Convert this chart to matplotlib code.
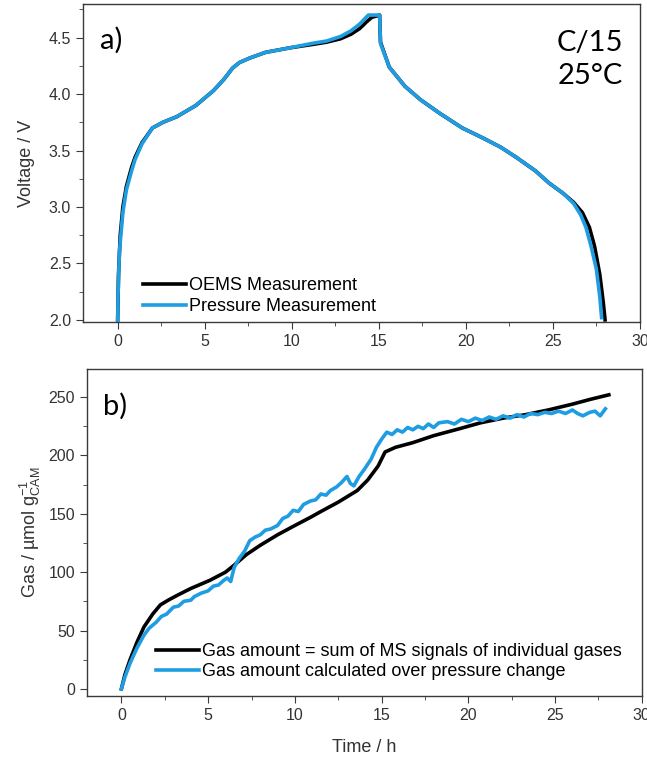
import matplotlib
matplotlib.use('Agg')
import matplotlib.pyplot as plt
from matplotlib.ticker import MultipleLocator

plt.rcParams['font.family'] = ['Liberation Sans', 'DejaVu Sans']

# panel a) voltage vs time
t_oems = [0, 0.05, 0.15, 0.3, 0.5, 0.8, 1.0, 1.4, 2.0, 2.6, 3.4, 4.5, 5.5, 6.1, 6.6,
          7.0, 7.6, 8.5, 9.9, 11.2, 12.0, 12.8, 13.4, 13.9, 14.3, 14.6, 15.05, 15.1,
          15.6, 16.5, 17.4, 18.5, 19.8, 21.0, 22.0, 22.9, 24.0, 24.8, 25.6, 26.2,
          26.7, 27.1, 27.4, 27.7, 27.9, 28.0]
v_oems = [2.0, 2.4, 2.75, 3.0, 3.18, 3.35, 3.44, 3.57, 3.70, 3.75, 3.80, 3.90, 4.03,
          4.13, 4.23, 4.28, 4.32, 4.37, 4.41, 4.44, 4.46, 4.49, 4.53, 4.58, 4.64, 4.68,
          4.70, 4.46, 4.24, 4.07, 3.95, 3.83, 3.70, 3.61, 3.53, 3.44, 3.32, 3.21, 3.12,
          3.04, 2.95, 2.82, 2.65, 2.40, 2.15, 2.0]
t_pres = [0, 0.02, 0.1, 0.3, 0.5, 0.8, 1.0, 1.4, 2.0, 2.6, 3.4, 4.5, 5.5, 6.1, 6.6,
          7.0, 7.6, 8.5, 9.9, 11.2, 12.0, 12.8, 13.4, 13.9, 14.4, 15.05, 15.1,
          15.6, 16.5, 17.4, 18.5, 19.8, 21.0, 22.0, 22.9, 24.0, 24.8, 25.6, 26.2,
          26.6, 26.9, 27.2, 27.5, 27.7, 27.8]
v_pres = [1.9, 2.2, 2.6, 2.95, 3.15, 3.32, 3.42, 3.56, 3.70, 3.75, 3.80, 3.90, 4.03,
          4.13, 4.23, 4.28, 4.32, 4.37, 4.41, 4.45, 4.47, 4.51, 4.56, 4.62, 4.70, 4.70,
          4.45, 4.24, 4.07, 3.95, 3.83, 3.70, 3.61, 3.53, 3.44, 3.32, 3.21, 3.12, 3.03,
          2.93, 2.82, 2.65, 2.45, 2.2, 2.02]

# panel b) gas amount vs time
t_ms = [0, 0.2, 0.5, 0.9, 1.3, 1.8, 2.25, 2.7, 3.2, 4.0, 5.1, 6.0, 6.5, 7.2, 8.0, 9.0,
        10.0, 10.9, 11.5, 12.5, 13.6, 14.2, 14.8, 15.2, 15.8, 16.8, 18.0, 19.5, 20.7,
        22.0, 23.3, 24.6, 26.0, 27.0, 28.1]
g_ms = [0, 12, 25, 40, 53, 64, 72, 76, 80, 86, 93, 100, 106, 115, 123, 132, 140, 147,
        152, 160, 170, 179, 191, 203, 207, 211, 217, 223, 228, 232, 235, 239, 244, 248, 252]
t_p = [0, 0.2, 0.5, 0.9, 1.3, 1.6, 2.0, 2.3, 2.6, 3.0, 3.3, 3.6, 4.0, 4.2, 4.6, 5.0,
       5.3, 5.6, 5.9, 6.1, 6.3, 6.5, 6.8, 7.1, 7.4, 7.7, 8.0, 8.3, 8.6, 9.0, 9.3, 9.6,
       9.9, 10.2, 10.5, 10.9, 11.2, 11.5, 11.8, 12.05, 12.4, 12.7, 13.0, 13.2, 13.4,
       13.7, 14.0, 14.4, 14.7, 15.0, 15.3, 15.6, 15.9, 16.2, 16.5, 16.8, 17.1, 17.4,
       17.7, 18.0, 18.3, 18.8, 19.2, 19.6, 20.0, 20.4, 20.8, 21.2, 21.6, 22.0, 22.4,
       22.8, 23.2, 23.6, 24.0, 24.4, 24.8, 25.2, 25.6, 26.0, 26.3, 26.6, 27.0, 27.3,
       27.6, 27.9]
g_p = [0, 10, 22, 35, 46, 52, 57, 62, 64, 70, 71, 75, 76, 79, 82, 84, 88, 89, 93, 95,
       92, 104, 112, 118, 127, 130, 132, 136, 137, 140, 146, 148, 153, 152, 158, 161,
       162, 167, 166, 170, 173, 177, 182, 176, 174, 182, 188, 197, 207, 214, 220, 218,
       222, 220, 224, 222, 225, 223, 227, 224, 228, 229, 227, 231, 229, 232, 230, 233,
       231, 234, 232, 235, 233, 236, 235, 237, 236, 238, 236, 239, 236, 234, 237, 238,
       234, 240]

blue = '#1E9DE3'
spine_c = '#3a3a3a'
txt_c = '#333333'

fig = plt.figure(figsize=(6.47, 7.58), dpi=100)
ax1 = fig.add_axes([0.128, 0.575, 0.861, 0.42])
ax2 = fig.add_axes([0.134, 0.082, 0.858, 0.431])

ax1.plot(t_oems, v_oems, color='black', lw=2.6, label='OEMS Measurement')
ax1.plot(t_pres, v_pres, color=blue, lw=2.6, label='Pressure Measurement')
ax2.plot(t_ms, g_ms, color='black', lw=2.6,
         label='Gas amount = sum of MS signals of individual gases')
ax2.plot(t_p, g_p, color=blue, lw=2.6,
         label='Gas amount calculated over pressure change')

ax1.set_xlim(-2, 30)
ax1.set_ylim(1.98, 4.80)
ax2.set_xlim(-2, 30)
ax2.set_ylim(-6, 274)

for ax in (ax1, ax2):
    ax.xaxis.set_major_locator(MultipleLocator(5))
    ax.xaxis.set_minor_locator(MultipleLocator(2.5))
    for s in ax.spines.values():
        s.set_color(spine_c)
        s.set_linewidth(1.0)
    ax.tick_params(which='both', direction='out', colors=spine_c, labelcolor=txt_c,
                   labelsize=11.5)
    ax.tick_params(which='major', length=5)
    ax.tick_params(which='minor', length=3)
    ax.legend(loc='lower left', frameon=False, fontsize=13, handlelength=2.4,
              handletextpad=0.15, labelspacing=0.2, borderaxespad=0)

ax1.yaxis.set_major_locator(MultipleLocator(0.5))
ax1.yaxis.set_minor_locator(MultipleLocator(0.25))
ax2.yaxis.set_major_locator(MultipleLocator(50))
ax2.yaxis.set_minor_locator(MultipleLocator(25))

ax1.legend_.set_bbox_to_anchor((0.095, 0.0), transform=ax1.transAxes)
ax2.legend_.set_bbox_to_anchor((0.112, 0.025), transform=ax2.transAxes)

ax1.set_ylabel('Voltage / V', fontsize=13, color=txt_c, labelpad=10)
ax2.set_ylabel('Gas / µmol g$_{\\mathregular{CAM}}^{\\mathregular{-1}}$', fontsize=13,
               color=txt_c, labelpad=4)
ax2.set_xlabel('Time / h', fontsize=13, color=txt_c, labelpad=12)

ax1.text(0.03, 0.885, 'a)', transform=ax1.transAxes, fontsize=21, family='Lato',
         va='center', ha='left')
ax2.text(0.03, 0.885, 'b)', transform=ax2.transAxes, fontsize=21, family='Lato',
         va='center', ha='left')
ax1.text(0.970, 0.825, 'C/15\n25°C', transform=ax1.transAxes, fontsize=21,
         family='Lato', va='center', ha='right', linespacing=1.35)

fig.savefig('out.png', dpi=100)
